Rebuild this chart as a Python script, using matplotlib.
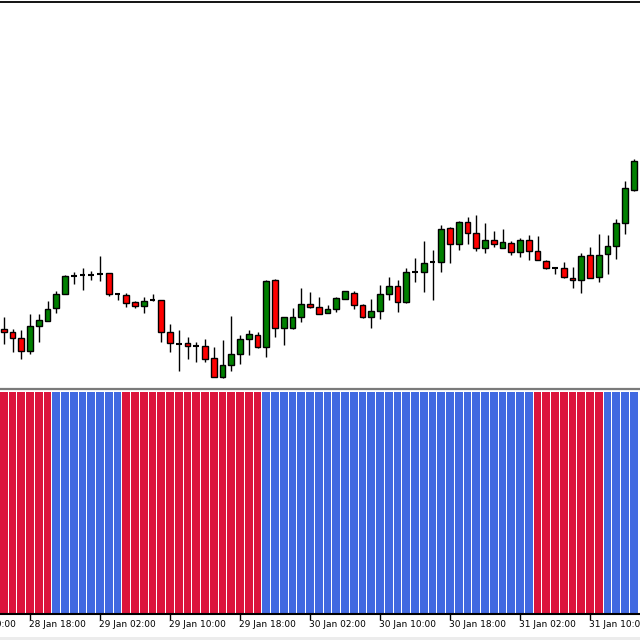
import matplotlib
matplotlib.use("Agg")
import matplotlib.pyplot as plt
from matplotlib.patches import Rectangle
from matplotlib.lines import Line2D
import matplotlib.transforms as mtransforms

# ---- data (price levels in arbitrary points; chart has no price scale) ----
opens = [61.5, 58.5, 52.5, 39.5, 64.5, 69.5, 82, 96.5, 114, 115, 115, 116.5, 117.5, 96.5, 95.5,
         88, 84.5, 90.5, 90, 58.5, 46, 47.5, 44, 44, 32, 13.5, 25.5, 36.5, 51.5, 55.5,
         43.5, 110, 62.5, 62, 73.5, 86.5, 83.5, 77.5, 81, 91.5, 97.5, 85.5, 73.5, 79, 96.5,
         104, 88.5, 118, 118.5, 128, 128, 162.5, 146.5, 168.5, 157.5, 142.5, 150, 142.5, 147.5,
         138, 150, 139, 129.5, 122.5, 122.5, 112.5, 110.5, 135.5, 113.5, 136.5, 144.5, 167.5, 200.5]
highs = [73, 61.5, 60, 76, 76, 89, 99, 115, 118.5, 122.5, 119, 134, 117.5, 96.5, 97.5,
         89.5, 93, 96.5, 90.5, 66, 60, 53.5, 48.5, 51, 43.5, 50, 74, 55.5, 60.5, 58.5,
         110.5, 111, 73.5, 82.5, 102.5, 98.5, 93.5, 85.5, 93.5, 99.5, 99, 86.5, 91.5, 105, 113.5,
         110, 122.5, 132.5, 149.5, 140.5, 165, 163.5, 169.5, 173.5, 175, 167.5, 159, 161, 149.5,
         152.5, 155, 154, 130.5, 122.5, 128.5, 123.5, 137.5, 143.5, 156.5, 155, 171.5, 209.5, 231.5]
lows = [46, 38.5, 31.5, 36.5, 48.5, 69, 77.5, 96, 106.5, 100.5, 110.5, 109.5, 94, 90.5, 83.5,
        82.5, 77.5, 89.5, 48.5, 38.5, 19.5, 31.5, 28.5, 28, 13.5, 12.5, 19.5, 26, 35.5, 42.5,
        33.5, 53.5, 45, 61, 68.5, 82.5, 76, 77.5, 78.5, 91, 81.5, 72.5, 62.5, 71.5, 90,
        78.5, 87.5, 108.5, 98.5, 90.5, 118.5, 127.5, 140, 146, 139, 137.5, 143.5, 142.5, 135.5,
        133.5, 130, 130, 121.5, 116.5, 112.5, 102.5, 97.5, 112.5, 108.5, 116.5, 131.5, 156.5, 199.5]
closes = [58.5, 52.5, 39.5, 64.5, 70.5, 81, 96.5, 114, 114.5, 115, 115, 116.5, 96.5, 96.5, 87.5,
          84.5, 89.5, 90.5, 58.5, 47.5, 46, 44, 44, 31.5, 13.5, 25.5, 36.5, 51.5, 56, 43.5,
          109, 62.5, 73.5, 73.5, 86.5, 83.5, 76.5, 81, 92, 99, 85.5, 73.5, 79, 96.5, 104,
          88.5, 118.5, 118, 127.5, 128, 161, 146.5, 168.5, 157.5, 142.5, 150, 146.5, 148, 138,
          150.5, 139, 130.5, 122.5, 122.5, 113.5, 110, 134.5, 112.5, 135.5, 144.5, 167.5, 202.5, 229]

# indicator state per bar: 1 = red (down), -1 = blue (up)
trend = [1, 1, 1, 1, 1, 1,
         -1, -1, -1, -1, -1, -1, -1, -1,
         1, 1, 1, 1, 1, 1, 1, 1, 1, 1, 1, 1, 1, 1, 1, 1,
         -1, -1, -1, -1, -1, -1, -1, -1, -1, -1, -1, -1, -1, -1, -1, -1,
         -1, -1, -1, -1, -1, -1, -1, -1, -1, -1, -1, -1, -1, -1, -1,
         1, 1, 1, 1, 1, 1, 1, 1,
         -1, -1, -1, -1]

tick_bars = [-5, 3, 11, 19, 27, 35, 43, 51, 59, 67]
tick_labels = ["28 Jan 10:00", "28 Jan 18:00", "29 Jan 02:00", "29 Jan 10:00", "29 Jan 18:00",
               "30 Jan 02:00", "30 Jan 10:00", "30 Jan 18:00", "31 Jan 02:00", "31 Jan 10:00"]

# ---- layout helpers (pixels) ----
W, H = 640.0, 640.0
def fy(py):
    return 1 - py / H

UP = "#008000"
DOWN = "#FF0000"
HIST_RED = "#DC143C"
HIST_BLUE = "#4169E1"

fig = plt.figure(figsize=(6.4, 6.4), dpi=100)
fig.patch.set_facecolor("white")

xlim = (-3.75 / 8.75, (640 - 3.75) / 8.75)

# main price pane
main_top, main_bot = 3.0, 387.0
ax = fig.add_axes([0, fy(main_bot), 1, (main_bot - main_top) / H])
ax.set_xlim(*xlim)
ax.set_ylim(390 - main_bot, 390 - main_top)
ax.axis("off")

bw = 0.66
for i, (o, h, l, c) in enumerate(zip(opens, highs, lows, closes)):
    ax.vlines(i, l, h, color="black", lw=1.0, zorder=1)
    if abs(c - o) < 0.6:
        ax.hlines((o + c) / 2, i - bw / 2, i + bw / 2, color="black", lw=1.5, zorder=2)
    else:
        col = UP if c > o else DOWN
        ax.add_patch(Rectangle((i - bw / 2, min(o, c)), bw, abs(c - o),
                               facecolor=col, edgecolor="black", lw=1.0, zorder=2))

# indicator pane
ind_top, ind_bot = 390.0, 613.5
ax2 = fig.add_axes([0, fy(ind_bot), 1, (ind_bot - ind_top) / H])
ax2.set_xlim(*xlim)
ax2.set_ylim(0, 1.007)
colors = [HIST_RED if t > 0 else HIST_BLUE for t in trend]
ax2.bar(range(len(trend)), [1] * len(trend), width=0.86, color=colors, linewidth=0)
for s in ["top", "left", "right"]:
    ax2.spines[s].set_visible(False)
ax2.spines["bottom"].set_color("black")
ax2.spines["bottom"].set_linewidth(1.5)
ax2.set_xticks([])
ax2.set_yticks([])

# time axis ticks and labels (manual so partially visible labels are kept)
trans = mtransforms.blended_transform_factory(ax2.transData, fig.transFigure)
for b, lab in zip(tick_bars, tick_labels):
    fig.add_artist(Line2D([b, b], [fy(615), fy(618.5)], transform=trans,
                          color="black", lw=1.0))
    fig.text(0, fy(624.5), lab, transform=trans, fontsize=6.5, family="DejaVu Sans",
             ha="left", va="center", color="black")
for t in fig.texts:
    pass
# reposition texts at their bar x (data) using the blended transform
for t, b in zip(fig.texts, tick_bars):
    t.set_x(b - 0.12)

# separator between panes, top border, bottom band
fig.add_artist(Line2D([0, 1], [fy(389), fy(389)], color="#7a7a7a", lw=1.6))
fig.add_artist(Line2D([0, 1], [fy(2), fy(2)], color="black", lw=1.3))
fig.add_artist(Rectangle((0, 0), 1, 3.5 / H, transform=fig.transFigure,
                         facecolor="#ececec", edgecolor="none"))

fig.savefig("out.png", dpi=100, facecolor="white")
